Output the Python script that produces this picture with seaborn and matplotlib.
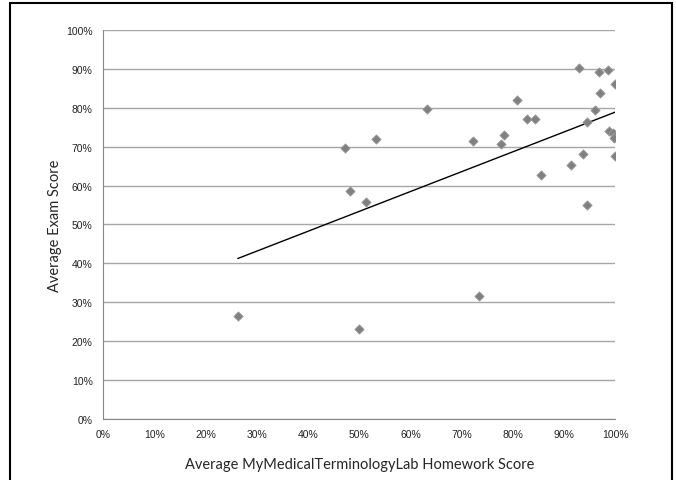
import numpy as np
import pandas as pd
import matplotlib
matplotlib.use("Agg")
import matplotlib.pyplot as plt
import matplotlib.patches as patches
from matplotlib.ticker import PercentFormatter
import seaborn as sns

# values (percent)
homework = [26.3, 49.9, 47.3, 53.2, 48.1, 51.4, 63.3, 72.1, 73.4, 77.6,
            78.2, 80.7, 82.8, 84.3, 85.4, 91.3, 92.8, 93.6, 94.5, 94.5,
            96.0, 96.7, 96.9, 98.6, 98.8, 99.5, 99.9, 99.8, 100.0, 100.0]
exam = [26.4, 23.1, 69.7, 71.9, 58.5, 55.9, 79.6, 71.4, 31.7, 70.6,
        73.1, 82.1, 77.2, 77.2, 62.7, 65.4, 90.3, 68.2, 76.4, 54.9,
        79.4, 89.3, 83.7, 89.8, 74.0, 73.4, 72.8, 72.2, 86.2, 67.6]
ticks = list(range(0, 101, 10))

df = pd.DataFrame({"hw": homework, "exam": exam})

sns.set_style("white")
plt.rcParams["font.family"] = ["Liberation Sans", "DejaVu Sans"]

fig = plt.figure(figsize=(6.76, 4.81), dpi=100)
ax = fig.add_axes([0.1524, 0.1268, 0.7581, 0.8088])

sns.scatterplot(data=df, x="hw", y="exam", marker="D", s=22,
                color="#808080", edgecolor="#999999", linewidth=0.6,
                ax=ax, zorder=3)
sns.regplot(data=df, x="hw", y="exam", scatter=False, ci=None, truncate=True,
            line_kws={"color": "black", "lw": 1.0}, ax=ax)

ax.set_xlim(0, 100)
ax.set_ylim(0, 100)
ax.set_xticks(ticks)
ax.set_yticks(ticks)
ax.xaxis.set_major_formatter(PercentFormatter(decimals=0))
ax.yaxis.set_major_formatter(PercentFormatter(decimals=0))
ax.tick_params(axis="both", labelsize=7.5, colors="#222222", length=4,
               width=0.8, direction="out", color="#888888")
ax.tick_params(axis="x", pad=3)
ax.grid(axis="y", color="#a6a6a6", lw=1.0)
ax.set_axisbelow(True)
for side in ["top", "right"]:
    ax.spines[side].set_visible(False)
for side in ["left", "bottom"]:
    ax.spines[side].set_color("#888888")
    ax.spines[side].set_linewidth(0.8)

ax.set_xlabel("Average MyMedicalTerminologyLab Homework Score",
              fontsize=10.5, family="Lato", labelpad=13)
ax.set_ylabel("Average Exam Score", fontsize=10.5, family="Lato", labelpad=3)

# frame around the figure, open at the bottom
fig.patches.append(patches.Rectangle((0.0148, -0.05), 0.9794, 1.0417,
                                     transform=fig.transFigure, fill=False,
                                     edgecolor="black", lw=1.5))

fig.savefig("out.png", dpi=100)
